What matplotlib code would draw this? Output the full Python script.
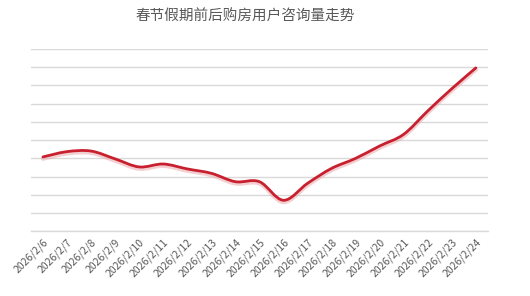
import matplotlib
matplotlib.use('Agg')
import matplotlib.pyplot as plt
from matplotlib.path import Path
from matplotlib.patches import PathPatch
import matplotlib.patheffects as pe
import numpy as np

plt.rcParams['font.family'] = ['Noto Sans CJK SC', 'DejaVu Sans']

title = "春节假期前后购房用户咨询量走势"
dates = ["2026/2/%d" % d for d in range(6, 25)]
values = [4.08, 4.37, 4.40, 3.97, 3.53, 3.69, 3.42, 3.18, 2.72, 2.72,
          1.70, 2.63, 3.45, 4.00, 4.68, 5.32, 6.60, 7.82, 8.96]

line_color = "#C8202F"
grid_color = "#D9D9D9"
text_color = "#595959"


def smooth_path(xs, ys, t=1 / 6):
    # cubic bezier through each point, like a spreadsheet "smoothed line"
    verts = [(xs[0], ys[0])]
    codes = [Path.MOVETO]
    n = len(xs)
    for i in range(n - 1):
        x0, y0 = (xs[i - 1], ys[i - 1]) if i > 0 else (xs[i], ys[i])
        x3, y3 = (xs[i + 2], ys[i + 2]) if i + 2 < n else (xs[i + 1], ys[i + 1])
        c1 = (xs[i] + (xs[i + 1] - x0) * t, ys[i] + (ys[i + 1] - y0) * t)
        c2 = (xs[i + 1] - (x3 - xs[i]) * t, ys[i + 1] - (y3 - ys[i]) * t)
        verts += [c1, c2, (xs[i + 1], ys[i + 1])]
        codes += [Path.CURVE4] * 3
    return Path(verts, codes)


fig = plt.figure(figsize=(5.30, 2.96), dpi=100)
ax = fig.add_axes([0.0585, 0.2186, 0.862, 0.616])

x = np.arange(len(dates))
patch = PathPatch(smooth_path(x, values), facecolor="none", edgecolor=line_color,
                  lw=2.0, capstyle="round", joinstyle="round", zorder=3,
                  path_effects=[pe.SimpleLineShadow(offset=(0, -1.2), shadow_color="#E8A0A5",
                                                    alpha=0.5, linewidth=3.2),
                                pe.Normal()])
ax.add_patch(patch)

ax.set_xlim(-0.5, len(dates) - 0.5)
ax.set_ylim(0, 10)
ax.set_yticks(np.arange(0, 11, 1))
ax.yaxis.grid(True, color=grid_color, lw=1.0)
ax.set_axisbelow(True)
ax.tick_params(axis="y", left=False, labelleft=False)
ax.tick_params(axis="x", length=0, pad=4, colors=text_color)
ax.set_xticks(x)
ax.set_xticklabels(dates, rotation=45, ha="right", va="top", rotation_mode="anchor",
                   fontsize=7.5, color=text_color)
for side in ["left", "right", "top"]:
    ax.spines[side].set_visible(False)
ax.spines["bottom"].set_color(grid_color)
ax.spines["bottom"].set_linewidth(1.0)

fig.text(245 / 530, 1 - 17 / 296, title, ha="center", va="center",
         fontsize=10.5, color=text_color)

fig.savefig("out.png", dpi=100)
